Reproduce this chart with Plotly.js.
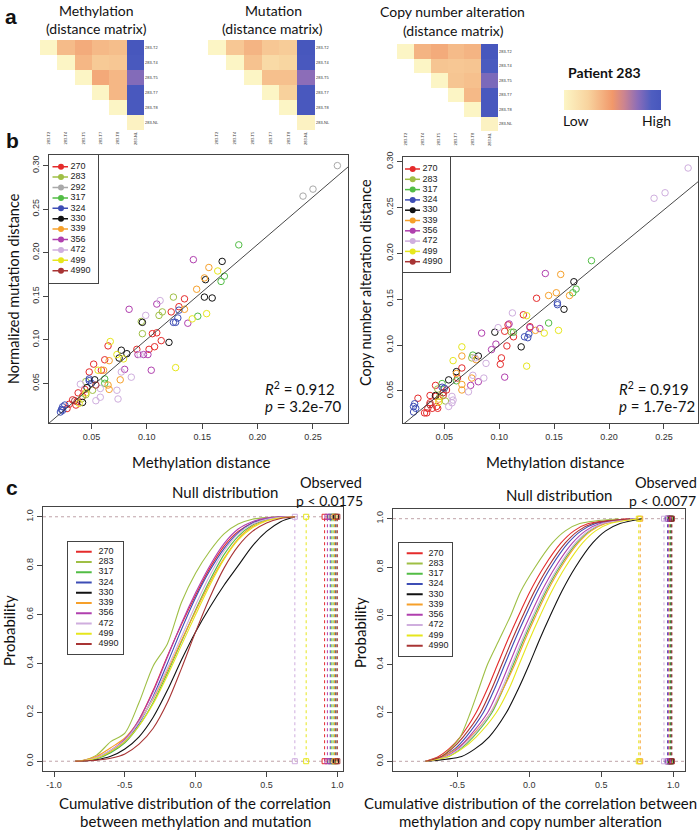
<!DOCTYPE html>
<html><head><meta charset="utf-8">
<script src="https://cdn.plot.ly/plotly-3.0.1.min.js"></script>
<style>html,body{margin:0;padding:0;background:#fff}#chart{width:700px;height:830px}</style>
</head><body><div id="chart"></div>
<script>
// ================= DATA =================
// Panel a: distance matrices (patient 283), 0 = low, 1 = high
const sampleLabels = ['283-T2','283-T4','283-T5','283-T7','283-T8','283-NL'];
const methylMatrix = [
  [0.00, 0.35, 0.42, 0.36, 0.34, 1.00],
  [null, 0.00, 0.37, 0.29, 0.30, 0.97],
  [null, null, 0.00, 0.43, 0.37, 0.78],
  [null, null, null, 0.00, 0.37, 0.98],
  [null, null, null, null, 0.00, 0.97],
  [null, null, null, null, null, 0.02]
];
const mutationMatrix = [
  [0.00, 0.30, 0.38, 0.30, 0.28, 1.00],
  [null, 0.00, 0.32, 0.20, 0.23, 0.98],
  [null, null, 0.00, 0.33, 0.33, 0.76],
  [null, null, null, 0.00, 0.26, 0.98],
  [null, null, null, null, 0.00, 0.98],
  [null, null, null, null, null, 0.02]
];
const cnaMatrix = [
  [0.00, 0.38, 0.42, 0.35, 0.38, 1.00],
  [null, 0.00, 0.31, 0.30, 0.31, 0.95],
  [null, null, 0.00, 0.31, 0.33, 0.80],
  [null, null, null, 0.00, 0.36, 0.98],
  [null, null, null, null, 0.00, 0.98],
  [null, null, null, null, null, 0.02]
];

// Patients and colours
const patientsMut = ['270','283','292','317','324','330','339','356','472','499','4990'];
const patientsCna = ['270','283','317','324','330','339','356','472','499','4990'];
const patientColors = {
  '270':'#e52b2b','283':'#9fbf45','292':'#a9a9a9','317':'#52bd45','324':'#3d4db5',
  '330':'#111111','339':'#f6a02a','356':'#b03fae','472':'#cfaede','499':'#e6e61c','4990':'#a83434'
};

// Panel b left: methylation distance vs normalized mutation distance
const mutPatient = [
 '292','292','292',
 '317','317','317','317','317','317',
 '356','356','356','356','356','356','356','356','356',
 '330','330','330','330','330','330','330','330','330','330','330','330',
 '339','339','339','339','339','339','339','339','339',
 '499','499','499','499','499','499','499','499','499','499',
 '270','270','270','270','270','270','270','270','270','270','270','270','270','270','270','270','270','270','270','270','270','270',
 '283','283','283','283','283','283','283','283','283',
 '472','472','472','472','472','472','472','472','472','472','472',
 '324','324','324','324','324','324','324','324','324','324','324','324',
 '4990','4990'];
const mutMethX = [
 0.272,0.250,0.241,
 0.183,0.170,0.167,0.146,0.062,0.062,
 0.142,0.109,0.084,0.137,0.104,0.092,0.097,0.101,0.080,
 0.168,0.153,0.152,0.159,0.096,0.120,0.082,0.077,0.075,0.053,0.046,0.042,
 0.156,0.152,0.145,0.134,0.076,0.065,0.066,0.066,0.061,
 0.164,0.154,0.141,0.126,0.079,0.073,0.067,0.056,0.039,0.045,
 0.134,0.122,0.129,0.105,0.109,0.113,0.107,0.102,0.091,0.065,0.059,0.062,0.052,0.048,0.044,0.042,0.038,0.037,0.033,0.030,0.036,0.028,
 0.124,0.114,0.111,0.095,0.096,0.045,0.051,0.045,0.041,
 0.112,0.099,0.094,0.086,0.077,0.073,0.074,0.058,0.058,0.054,0.040,
 0.129,0.128,0.126,0.124,0.048,0.048,0.050,0.024,0.023,0.022,0.024,0.026,
 0.054,0.035];
const mutDistY = [
 0.300,0.273,0.265,
 0.209,0.173,0.167,0.127,0.055,0.050,
 0.192,0.141,0.135,0.119,0.065,0.083,0.083,0.083,0.066,
 0.190,0.169,0.149,0.148,0.120,0.097,0.084,0.088,0.079,0.054,0.045,0.028,
 0.183,0.171,0.158,0.135,0.054,0.048,0.043,0.076,0.065,
 0.179,0.130,0.124,0.068,0.078,0.083,0.098,0.065,0.027,0.039,
 0.147,0.132,0.138,0.107,0.108,0.099,0.092,0.089,0.089,0.093,0.065,0.077,0.072,0.063,0.043,0.035,0.039,0.029,0.031,0.026,0.025,0.021,
 0.149,0.132,0.128,0.121,0.107,0.052,0.042,0.037,0.032,
 0.145,0.128,0.083,0.057,0.063,0.042,0.032,0.044,0.034,0.030,0.049,
 0.134,0.125,0.120,0.120,0.055,0.053,0.050,0.023,0.020,0.017,0.019,0.025,
 0.048,0.030];
const mutFit = [1.09, -0.0085];   // slope, intercept
const mutStats = ['0.912', '3.2e-70'];

// Panel b right: methylation distance vs copy number alteration distance
const cnaPatient = [
 '472','472','472','472','472','472','472','472','472','472','472','472','472','472',
 '317','317','317','317','317','317','317','317',
 '356','356','356','356','356','356','356','356','356','356',
 '339','339','339','339','339','339','339','339','339','339','339','339',
 '330','330','330','330','330','330','330','330',
 '324','324','324','324','324','324','324','324','324','324','324',
 '270','270','270','270','270','270','270','270','270','270','270','270','270','270','270','270','270','270','270','270','270','270','270','270',
 '499','499','499','499','499','499','499',
 '283','283','283','283','283',
 '4990','4990'];
const cnaMethX = [
 0.272,0.251,0.241,0.112,0.099,0.088,0.078,0.076,0.086,0.072,0.057,0.058,0.054,0.057,
 0.184,0.170,0.167,0.145,0.113,0.076,0.061,0.048,
 0.142,0.137,0.128,0.109,0.097,0.093,0.105,0.084,0.081,0.074,
 0.156,0.164,0.145,0.152,0.133,0.079,0.066,0.075,0.066,0.066,0.061,0.045,
 0.168,0.159,0.120,0.096,0.081,0.061,0.054,0.042,
 0.153,0.153,0.127,0.126,0.123,0.050,0.048,0.022,0.023,0.024,0.022,
 0.134,0.128,0.122,0.108,0.113,0.105,0.107,0.102,0.101,0.066,0.062,0.052,0.042,0.042,0.049,0.037,0.037,0.035,0.039,0.044,0.043,0.034,0.032,0.026,
 0.154,0.141,0.125,0.125,0.066,0.058,0.045,
 0.111,0.075,0.044,0.046,0.051,
 0.049,0.037];
const cnaDistY = [
 0.293,0.266,0.260,0.135,0.119,0.080,0.086,0.067,0.064,0.049,0.037,0.040,0.033,0.044,
 0.192,0.161,0.157,0.124,0.114,0.089,0.061,0.058,
 0.178,0.118,0.119,0.123,0.101,0.095,0.065,0.113,0.060,0.056,
 0.177,0.154,0.154,0.157,0.116,0.084,0.088,0.064,0.057,0.051,0.069,0.041,
 0.169,0.139,0.098,0.114,0.088,0.071,0.062,0.045,
 0.146,0.144,0.112,0.108,0.109,0.053,0.054,0.033,0.036,0.031,0.027,
 0.151,0.120,0.133,0.122,0.109,0.115,0.099,0.086,0.079,0.075,0.064,0.051,0.044,0.056,0.045,0.045,0.037,0.031,0.031,0.031,0.033,0.026,0.026,0.042,
 0.116,0.113,0.132,0.077,0.098,0.083,0.038,
 0.114,0.086,0.052,0.044,0.039,
 0.048,0.035];
const cnaFit = [0.985, 0.0012];
const cnaStats = ['0.919', '1.7e-72'];

// Panel c left: cumulative null distributions (probability at each correlation value)
const cdfMutX = [-0.85,-0.8,-0.7,-0.6,-0.5,-0.4,-0.3,-0.2,-0.1,0.0,0.1,0.2,0.3,0.4,0.5,0.6,0.7];
const cdfMut = {
  '270': [0,0.002,0.012,0.040,0.085,0.170,0.290,0.430,0.560,0.680,0.790,0.880,0.940,0.975,0.993,0.999,1],
  '283': [0,0.003,0.025,0.080,0.115,0.240,0.390,0.480,0.650,0.770,0.860,0.930,0.970,0.990,0.997,1,1],
  '317': [0,0.002,0.010,0.035,0.075,0.145,0.240,0.360,0.490,0.620,0.740,0.845,0.920,0.965,0.988,0.997,1],
  '324': [0,0.002,0.012,0.040,0.080,0.155,0.265,0.400,0.540,0.670,0.780,0.870,0.935,0.975,0.992,0.999,1],
  '330': [0,0.001,0.006,0.020,0.050,0.100,0.180,0.290,0.415,0.530,0.630,0.720,0.800,0.880,0.940,0.980,1],
  '339': [0,0.003,0.020,0.055,0.095,0.165,0.255,0.370,0.495,0.615,0.730,0.830,0.910,0.960,0.985,0.997,1],
  '356': [0,0.002,0.015,0.045,0.090,0.170,0.285,0.425,0.565,0.690,0.800,0.890,0.950,0.980,0.995,1,1],
  '472': [0,0.002,0.015,0.045,0.085,0.160,0.260,0.380,0.510,0.640,0.760,0.860,0.930,0.970,0.990,0.998,1],
  '499': [0,0.002,0.012,0.040,0.080,0.145,0.235,0.350,0.475,0.600,0.720,0.825,0.905,0.955,0.983,0.996,1],
  '4990':[0,0.001,0.004,0.012,0.030,0.070,0.135,0.240,0.380,0.530,0.670,0.790,0.880,0.940,0.975,0.993,1]
};
const obsMut = {'270':0.91,'283':0.96,'317':0.97,'324':0.95,'330':0.99,'339':0.98,'356':0.93,'472':0.70,'499':0.78,'4990':1.00};
const pMut = '0.0175';

// Panel c right: cumulative null distributions (correlation value at each probability level)
const cdfCnaLevels = [0, 0.02, 0.05, 0.1, 0.2, 0.3, 0.4, 0.5, 0.6, 0.7, 0.8, 0.9, 0.95, 0.98, 1];
const cdfCnaQ = {
  '270': [-0.72,-0.63,-0.56,-0.48,-0.37,-0.29,-0.22,-0.15,-0.075,0.005,0.10,0.22,0.31,0.41,0.68],
  '283': [-0.72,-0.61,-0.55,-0.48,-0.41,-0.35,-0.29,-0.21,-0.13,-0.06,0.04,0.16,0.25,0.35,0.62],
  '317': [-0.72,-0.56,-0.48,-0.39,-0.26,-0.18,-0.11,-0.04,0.035,0.115,0.21,0.33,0.42,0.52,0.75],
  '324': [-0.72,-0.60,-0.52,-0.44,-0.32,-0.24,-0.17,-0.10,-0.025,0.055,0.15,0.27,0.36,0.46,0.72],
  '330': [-0.72,-0.47,-0.38,-0.28,-0.16,-0.075,0.00,0.07,0.145,0.225,0.32,0.44,0.53,0.63,0.78],
  '339': [-0.72,-0.60,-0.51,-0.41,-0.27,-0.18,-0.10,-0.03,0.045,0.125,0.22,0.34,0.43,0.53,0.76],
  '356': [-0.72,-0.58,-0.50,-0.42,-0.29,-0.21,-0.14,-0.07,0.005,0.085,0.18,0.30,0.39,0.49,0.73],
  '472': [-0.72,-0.57,-0.49,-0.40,-0.27,-0.19,-0.12,-0.05,0.025,0.105,0.20,0.32,0.41,0.51,0.74],
  '499': [-0.72,-0.56,-0.47,-0.37,-0.23,-0.14,-0.07,0.00,0.075,0.155,0.25,0.37,0.46,0.56,0.76],
  '4990':[-0.72,-0.61,-0.54,-0.46,-0.34,-0.26,-0.19,-0.12,-0.045,0.035,0.13,0.25,0.34,0.44,0.70]
};
const obsCna = {'270':0.97,'283':0.975,'317':0.98,'324':0.96,'330':0.985,'339':0.77,'356':0.965,'472':0.935,'499':0.76,'4990':0.99};
const pCna = '0.0077';

const scatterXTicks = [0.05,0.10,0.15,0.20,0.25];
const scatterYTicks = [0.05,0.10,0.15,0.20,0.25,0.30];
const cdfYTicks = [0,0.2,0.4,0.6,0.8,1.0];

// ================= LAYOUT HELPERS =================
const W = 700, H = 830;
const fx = v => v / W;
const fy = v => 1 - v / H;
const TF = 'Lato, "Open Sans", sans-serif';
const HF = '"Liberation Sans", Arial, sans-serif';
const axN = i => i === 1 ? '' : String(i);

const traces = [];
const layout = {
  width: W, height: H, autosize: false,
  margin: {l:0, r:0, t:0, b:0},
  paper_bgcolor: '#fff', plot_bgcolor: 'rgba(0,0,0,0)',
  showlegend: false,
  font: {family: HF, color: '#222'},
  coloraxis: {
    cmin: 0, cmax: 1, showscale: true,
    colorscale: [[0,'#fcf5c5'],[0.25,'#f8d39e'],[0.5,'#f1986a'],[0.62,'#cc8490'],[0.76,'#8c6db8'],[0.9,'#4f5ec0'],[1,'#4757bd']],
    colorbar: {orientation:'h', x: fx(612.5), xanchor:'center', y: fy(100), yanchor:'middle',
      len: 97/W, lenmode:'fraction', thickness: 20, thicknessmode:'pixels',
      outlinewidth: 0, showticklabels: false, ticks: '', xpad: 0, ypad: 0}
  },
  annotations: [], shapes: []
};

function ann(text, x, y, size, extra) {
  layout.annotations.push(Object.assign({text, x: fx(x), y: fy(y), xref:'paper', yref:'paper',
    showarrow:false, xanchor:'center', yanchor:'middle', font:{family:TF, size, color:'#111'}}, extra || {}));
}

// ---- panel a heatmaps ----
function heatPanel(idx, z, box) {
  const n = axN(idx);
  traces.push({type:'heatmap', z, x: sampleLabels, y: sampleLabels, xaxis:'x'+n, yaxis:'y'+n,
    coloraxis:'coloraxis', hoverongaps:false});
  layout['xaxis'+n] = {domain:[fx(box[0]), fx(box[1])], anchor:'y'+n, type:'category',
    showgrid:false, zeroline:false, ticks:'', tickangle:-90, tickfont:{size:4, color:'#333'}, fixedrange:true};
  layout['yaxis'+n] = {domain:[fy(box[3]), fy(box[2])], anchor:'x'+n, type:'category', side:'right',
    autorange:'reversed', showgrid:false, zeroline:false, ticks:'', tickfont:{size:4, color:'#333'}, fixedrange:true};
}
heatPanel(1, methylMatrix, [40,144,40,130]);
heatPanel(2, mutationMatrix, [208,315,40,130]);
heatPanel(3, cnaMatrix, [397,498,44,131]);

// ---- panel b scatters ----
const axCommon = {showline:true, mirror:true, linecolor:'#444', linewidth:1, ticks:'outside', ticklen:5,
  tickcolor:'#444', tickwidth:1, showgrid:false, zeroline:false, tickfont:{family:HF, size:9, color:'#333'}, fixedrange:true};

function scatterPanel(idx, pats, patList, xs, ys, fit, box, xr, yr) {
  const n = axN(idx);
  patList.forEach(p => {
    const xx = [], yy = [];
    pats.forEach((q, i) => { if (q === p) { xx.push(xs[i]); yy.push(ys[i]); } });
    traces.push({type:'scatter', mode:'markers', x:xx, y:yy, xaxis:'x'+n, yaxis:'y'+n,
      marker:{symbol:'circle-open', size:6.5, color:patientColors[p], line:{width:1}}, cliponaxis:false});
  });
  traces.push({type:'scatter', mode:'lines', x:[xr[0], xr[1]], y:[fit[0]*xr[0]+fit[1], fit[0]*xr[1]+fit[1]],
    xaxis:'x'+n, yaxis:'y'+n, line:{color:'#333', width:0.9}});
  layout['xaxis'+n] = Object.assign({}, axCommon, {domain:[fx(box[0]), fx(box[1])], anchor:'y'+n, range:xr,
    tickvals:scatterXTicks, tickformat:'.2f'});
  layout['yaxis'+n] = Object.assign({}, axCommon, {domain:[fy(box[3]), fy(box[2])], anchor:'x'+n, range:yr,
    tickvals:scatterYTicks, tickformat:'.2f', tickangle:-90});
}
scatterPanel(5, mutPatient, patientsMut, mutMethX, mutDistY, mutFit, [49,348,155,423], [0.0117,0.2816], [0.0044,0.3122]);
scatterPanel(6, cnaPatient, patientsCna, cnaMethX, cnaDistY, cnaFit, [403,698,157,423], [0.0124,0.281], [0.015,0.305]);

// ---- panel c cdfs ----
function cdfPanel(idx, curveXY, obs, box, xr, xticks) {
  const n = axN(idx);
  [0, 1].forEach(v => layout.shapes.push({type:'line', xref:'x'+n+' domain', yref:'y'+n, x0:0, x1:1, y0:v, y1:v,
    line:{color:'#bfa3a8', width:1, dash:'dot'}, layer:'below'}));
  patientsCna.forEach(p => {
    traces.push({type:'scatter', mode:'lines+markers', x:[obs[p], obs[p]], y:[0,1], xaxis:'x'+n, yaxis:'y'+n,
      line:{color:patientColors[p], width:1, dash:'dot'}, marker:{symbol:'square-open', size:5, color:patientColors[p], line:{width:1}}, cliponaxis:false});
  });
  patientsCna.forEach(p => {
    const c = curveXY(p);
    traces.push({type:'scatter', mode:'lines', x:c[0], y:c[1], xaxis:'x'+n, yaxis:'y'+n,
      line:{color:patientColors[p], width:1.1, shape:'spline', smoothing:0.8}});
  });
  layout['xaxis'+n] = Object.assign({}, axCommon, {domain:[fx(box[0]), fx(box[1])], anchor:'y'+n, range:xr,
    tickvals:xticks, ticktext:xticks.map(v => (v < 0 ? '-' : '') + Math.abs(v).toFixed(1))});
  layout['yaxis'+n] = Object.assign({}, axCommon, {domain:[fy(box[3]), fy(box[2])], anchor:'x'+n, range:[-0.04,1.04],
    tickvals:cdfYTicks, tickformat:'.1f', tickangle:-90});
}
cdfPanel(7, p => [cdfMutX, cdfMut[p]], obsMut, [43,343,507,771], [-1.078,1.04], [-1,-0.5,0,0.5,1]);
cdfPanel(8, p => [cdfCnaQ[p], cdfCnaLevels], obsCna, [393,685,509,771], [-0.9465,1.081], [-0.5,0,0.5,1]);

// ---- legends (drawn as small framed subplots, pixel units) ----
function legendPanel(idx, list, box, firstY, step, lineX, markX, textX, lineW) {
  const n = axN(idx);
  list.forEach((p, i) => {
    const yy = firstY + step * i;
    traces.push({type:'scatter', mode:'lines', x:lineX, y:[yy,yy], xaxis:'x'+n, yaxis:'y'+n,
      line:{color:patientColors[p], width:lineW}});
    if (markX !== null) traces.push({type:'scatter', mode:'markers', x:[markX], y:[yy], xaxis:'x'+n, yaxis:'y'+n,
      marker:{symbol:'circle', size:6, color:patientColors[p]}});
    traces.push({type:'scatter', mode:'text', x:[textX], y:[yy], text:[p], textposition:'middle right',
      xaxis:'x'+n, yaxis:'y'+n, textfont:{family:HF, size:9, color:'#222'}, cliponaxis:false});
  });
  const common = {showline:true, mirror:true, linecolor:'#444', linewidth:1, ticks:'', showticklabels:false,
    showgrid:false, zeroline:false, fixedrange:true};
  layout['xaxis'+n] = Object.assign({}, common, {domain:[fx(box[0]), fx(box[1])], anchor:'y'+n, range:[box[0], box[1]]});
  layout['yaxis'+n] = Object.assign({}, common, {domain:[fy(box[3]), fy(box[2])], anchor:'x'+n, range:[box[3], box[2]]});
}
legendPanel(9,  patientsMut, [49,98,155,283.3], 166.7, 10.4, [52.5,68], 61, 70.5, 1.5);
legendPanel(10, patientsCna, [403,450,157,272], 169, 10.3, [405,420], 412.7, 422.5, 1.5);
legendPanel(11, patientsCna, [68.3,123.3,541.7,654.3], 551.7, 10.26, [76,91.7], null, 98.5, 2);
legendPanel(12, patientsCna, [399.3,452.3,543.3,655.7], 553.3, 10.26, [406.7,422.7], null, 428.5, 2);

// ---- texts ----
ann('<b>a</b>', 11, 16, 21, {font:{family:HF, size:21, color:'#111'}});
ann('<b>b</b>', 12, 140, 21, {font:{family:HF, size:21, color:'#111'}});
ann('<b>c</b>', 12, 487, 21, {font:{family:HF, size:21, color:'#111'}});
ann('Methylation', 96, 10, 14);
ann('(distance matrix)', 96, 28, 14);
ann('Mutation', 273, 10, 14);
ann('(distance matrix)', 272.5, 28, 14);
ann('Copy number alteration', 452, 11.5, 14);
ann('(distance matrix)', 453.5, 30.5, 14);
ann('<b>Patient 283</b>', 604, 72, 14);
ann('Low', 575.5, 120, 14);
ann('High', 656, 120, 14);

ann('Normalized mutation distance', 13, 289, 14.5, {textangle:-90});
ann('Copy number alteration distance', 365, 283, 14.5, {textangle:-90});
ann('Methylation distance', 201, 462, 15);
ann('Methylation distance', 555, 462, 15);
ann('<i>R</i><sup>2</sup> = ' + mutStats[0], 263, 388, 15, {xanchor:'left'});
ann('<i>p</i> = ' + mutStats[1], 263, 406, 15, {xanchor:'left'});
ann('<i>R</i><sup>2</sup> = ' + cnaStats[0], 617, 389, 15, {xanchor:'left'});
ann('<i>p</i> = ' + cnaStats[1], 617, 406, 15, {xanchor:'left'});

ann('Null distribution', 225, 492, 15);
ann('Observed', 331, 482, 14.5);
ann('p &lt; ' + pMut, 329, 500, 14);
ann('Null distribution', 558.5, 495, 15);
ann('Observed', 666, 482, 14.5);
ann('p &lt; ' + pCna, 698, 500, 14, {xanchor:'right'});
ann('Probability', 9, 631, 15, {textangle:-90});
ann('Probability', 360, 632, 15, {textangle:-90});
ann('Cumulative distribution of the correlation', 195, 803, 15);
ann('between methylation and mutation', 195, 821, 15);
ann('Cumulative distribution of the correlation between', 530, 803, 15);
ann('methylation and copy number alteration', 530, 821, 15);

Plotly.newPlot('chart', traces, layout, {staticPlot:true, displayModeBar:false});
</script>
</body></html>
